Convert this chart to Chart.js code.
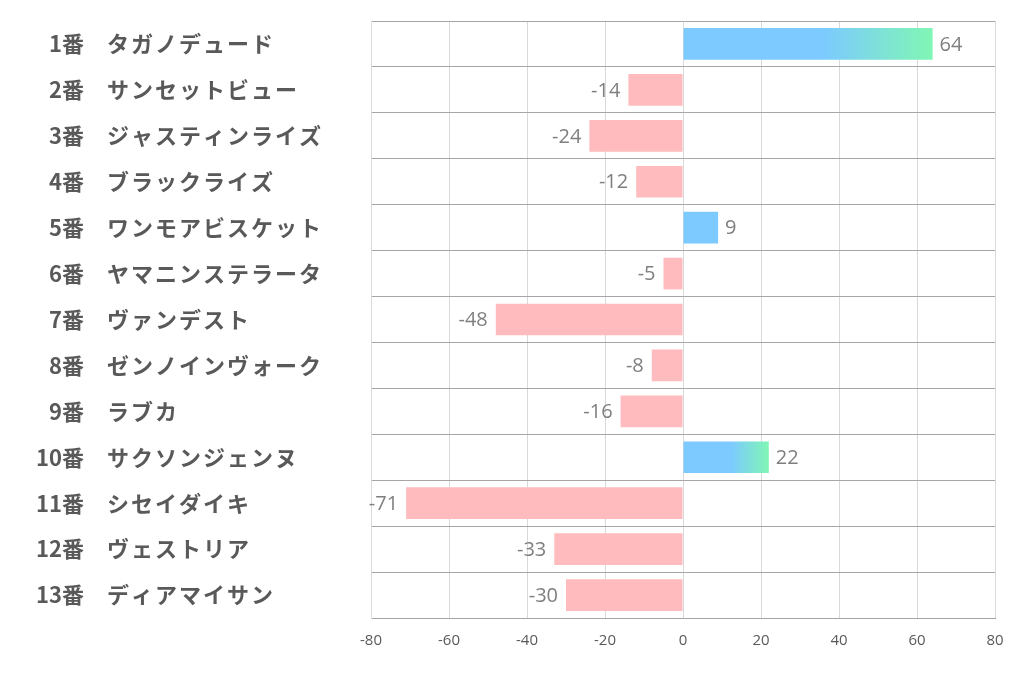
<!DOCTYPE html>
<html>
<head>
<meta charset="utf-8">
<script src="https://cdn.jsdelivr.net/npm/chart.js@4/dist/chart.umd.min.js"></script>
<style>
  html, body { margin: 0; padding: 0; background: #fff; }
  #wrap { width: 1022px; height: 678px; }
</style>
</head>
<body>
<div id="wrap"><canvas id="chart" width="1022" height="678"></canvas></div>
<script>
const horseNumbers = ['1番', '2番', '3番', '4番', '5番', '6番', '7番', '8番', '9番', '10番', '11番', '12番', '13番'];
const horseNames = ['タガノデュード', 'サンセットビュー', 'ジャスティンライズ', 'ブラックライズ', 'ワンモアビスケット',
    'ヤマニンステラータ', 'ヴァンデスト', 'ゼンノインヴォーク', 'ラブカ', 'サクソンジェンヌ',
    'シセイダイキ', 'ヴェストリア', 'ディアマイサン'];
const scores = [64, -14, -24, -12, 9, -5, -48, -8, -16, 22, -71, -33, -30];
const xTicks = [-80, -60, -40, -20, 0, 20, 40, 60, 80];

const BLUE = '#7ccaff';
const GREEN = '#80f6b4';
const PINK = '#ffbbbd';

function barColor(ctx) {
    const v = scores[ctx.dataIndex];
    if (v < 0) return PINK;
    if (v < 10) return BLUE;
    const chart = ctx.chart;
    if (!chart.chartArea) return BLUE;
    const x0 = chart.scales.x.getPixelForValue(0);
    const x1 = chart.scales.x.getPixelForValue(v);
    const g = chart.ctx.createLinearGradient(x0, 0, x1, 0);
    g.addColorStop(0, BLUE);
    g.addColorStop(0.56, BLUE);
    g.addColorStop(1, GREEN);
    return g;
}

// horse number + name on the left, value next to each bar
const labelPlugin = {
    id: 'labels',
    afterDatasetsDraw(chart) {
        const c = chart.ctx;
        const yScale = chart.scales.y;
        c.save();
        c.fillStyle = '#595959';
        c.font = 'bold 22px "Noto Sans CJK JP"';
        c.textBaseline = 'middle';
        horseNames.forEach((name, i) => {
            const y = yScale.getPixelForValue(i);
            c.letterSpacing = '0px';
            c.textAlign = 'right';
            c.fillText(horseNumbers[i], 84, y);
            c.letterSpacing = '2px';
            c.textAlign = 'left';
            c.fillText(name, 107, y);
        });
        c.letterSpacing = '0px';

        const meta = chart.getDatasetMeta(0);
        c.fillStyle = '#7f7f7f';
        c.font = '20px "Open Sans"';
        meta.data.forEach((bar, i) => {
            const v = scores[i];
            if (v >= 0) {
                c.textAlign = 'left';
                c.fillText(String(v), bar.x + 7, bar.y + 1);
            } else {
                c.textAlign = 'right';
                c.fillText(String(v), bar.x - 8, bar.y + 1);
            }
        });
        c.restore();
    }
};

new Chart(document.getElementById('chart').getContext('2d'), {
    type: 'bar',
    data: {
        labels: horseNames,
        datasets: [{
            data: scores,
            backgroundColor: barColor,
            borderWidth: 0,
            barPercentage: 0.69,
            categoryPercentage: 1.0
        }]
    },
    options: {
        indexAxis: 'y',
        responsive: false,
        animation: false,
        layout: { padding: { left: 371, right: 27, top: 21, bottom: 14 } },
        plugins: {
            legend: { display: false },
            tooltip: { enabled: false }
        },
        scales: {
            x: {
                min: -80,
                max: 80,
                afterBuildTicks: axis => { axis.ticks = xTicks.map(v => ({ value: v })); },
                grid: { color: '#d9d9d9', lineWidth: 1, drawTicks: false },
                border: { display: true, color: '#a6a6a6' },
                ticks: {
                    color: '#595959',
                    font: { family: '"Open Sans"', size: 15 },
                    padding: 14,
                    maxRotation: 0
                }
            },
            y: {
                offset: true,
                grid: { offset: true, color: '#a6a6a6', lineWidth: 1, drawTicks: false },
                border: { display: true, color: '#d9d9d9' },
                ticks: { display: false }
            }
        }
    },
    plugins: [labelPlugin]
});
</script>
</body>
</html>
